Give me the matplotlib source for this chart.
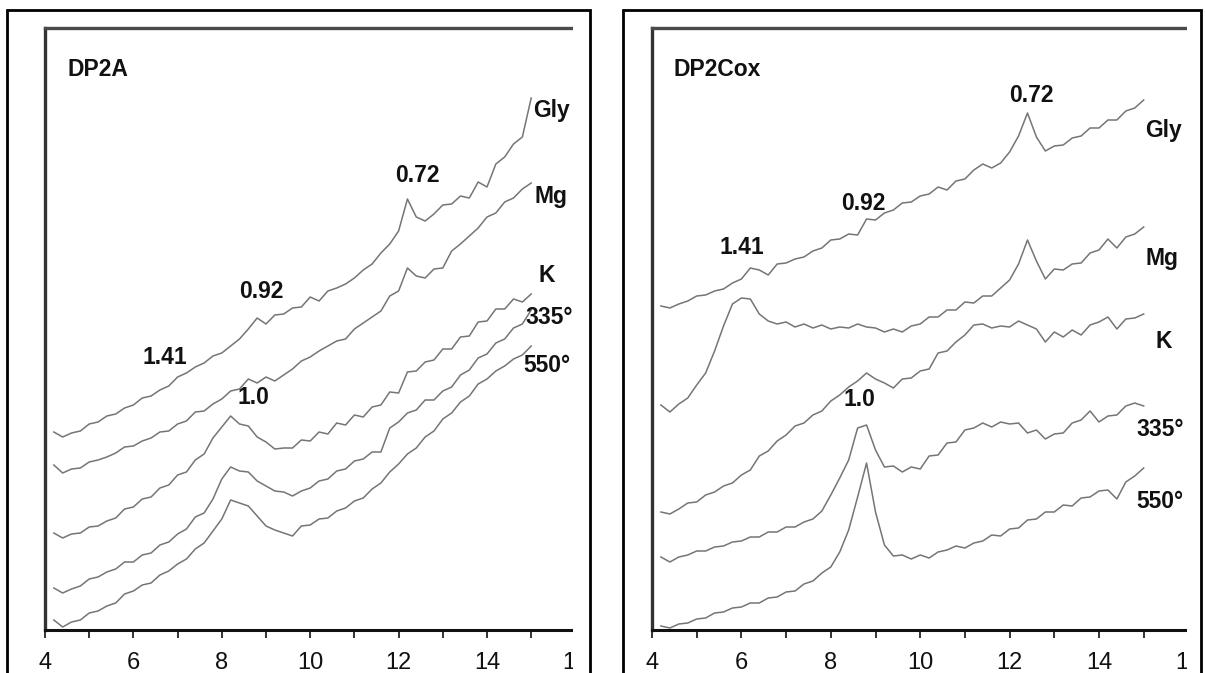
import numpy as np
import matplotlib
matplotlib.use("Agg")
import matplotlib.pyplot as plt
from matplotlib.patches import Rectangle
from matplotlib.ticker import MultipleLocator

# ---------------- data (2-theta grid, intensities) ----------------
two_theta = np.round(np.arange(4.2, 15.01, 0.2), 1)

# DP2A panel
dp2a_gly = [198, 193, 197, 199, 206, 208, 214, 216, 222, 225, 232, 234, 240, 244, 253, 257, 263, 267,
            274, 277, 284, 291, 301, 312, 306, 315, 316, 322, 323, 333, 329, 339, 342, 346, 352, 360,
            366, 377, 386, 399, 431, 413, 409, 416, 425, 426, 434, 432, 448, 443, 466, 473, 486, 493, 532]
dp2a_mg = [165, 157, 161, 162, 168, 170, 173, 177, 183, 184, 189, 192, 198, 199, 206, 209, 218, 219,
           226, 231, 239, 241, 251, 247, 253, 249, 255, 261, 269, 273, 279, 284, 289, 291, 301, 307,
           313, 319, 334, 339, 362, 354, 352, 361, 362, 379, 386, 394, 402, 413, 417, 428, 432, 441, 447]
dp2a_k = [97, 92, 96, 97, 103, 104, 109, 112, 121, 123, 131, 133, 142, 145, 155, 158, 170, 176,
          192, 203, 214, 206, 204, 193, 188, 181, 182, 182, 190, 189, 198, 196, 207, 205, 215, 213,
          223, 225, 238, 237, 258, 259, 268, 270, 281, 281, 293, 294, 308, 309, 321, 321, 331, 328, 336]
dp2a_335 = [42, 37, 41, 44, 51, 53, 58, 61, 68, 68, 75, 77, 85, 88, 96, 101, 113, 117,
            131, 151, 163, 159, 158, 149, 144, 139, 138, 134, 139, 142, 149, 151, 159, 161, 169, 171,
            178, 178, 202, 208, 217, 220, 230, 230, 239, 243, 255, 260, 272, 276, 287, 291, 302, 306, 320]
dp2a_550 = [10, 3, 8, 10, 17, 19, 24, 27, 36, 39, 45, 47, 55, 59, 66, 71, 81, 87,
            99, 111, 130, 127, 124, 114, 104, 100, 97, 94, 104, 105, 111, 112, 119, 122, 129, 132,
            141, 147, 158, 166, 176, 182, 193, 199, 211, 217, 228, 234, 246, 251, 259, 264, 271, 275, 284]

# DP2Cox panel
dp2cox_gly = [324, 322, 326, 329, 334, 335, 339, 341, 347, 351, 362, 360, 355, 366, 367, 371, 373, 379,
              382, 390, 391, 396, 395, 411, 410, 417, 420, 427, 428, 434, 436, 443, 440, 449, 451, 460,
              466, 462, 467, 478, 494, 517, 493, 479, 484, 485, 492, 494, 502, 502, 510, 510, 519, 522, 530]
dp2cox_mg = [225, 218, 226, 232, 245, 257, 279, 304, 326, 332, 331, 316, 309, 306, 308, 303, 306, 302,
             305, 301, 303, 302, 306, 303, 302, 298, 301, 298, 304, 306, 313, 313, 320, 320, 328, 327,
             334, 334, 342, 350, 366, 390, 369, 351, 361, 360, 366, 367, 377, 380, 391, 382, 393, 396, 403]
dp2cox_k = [118, 116, 121, 127, 128, 135, 138, 144, 147, 155, 160, 174, 179, 189, 195, 204, 207, 215,
            219, 229, 235, 243, 249, 257, 251, 247, 242, 251, 252, 259, 261, 277, 279, 288, 295, 305,
            306, 302, 304, 303, 309, 305, 301, 288, 298, 293, 300, 295, 305, 308, 313, 301, 311, 312, 316]
dp2cox_335 = [73, 68, 73, 75, 79, 79, 83, 84, 88, 89, 93, 93, 98, 98, 103, 103, 108, 111,
              119, 135, 152, 170, 202, 205, 180, 163, 164, 158, 163, 161, 174, 175, 187, 188, 200, 202,
              207, 203, 208, 206, 207, 197, 200, 191, 196, 197, 207, 210, 219, 208, 214, 215, 224, 227, 224]
dp2cox_550 = [4, 2, 6, 7, 11, 12, 17, 18, 22, 23, 27, 27, 32, 33, 38, 39, 46, 49,
              57, 63, 78, 100, 133, 167, 118, 85, 74, 75, 71, 75, 72, 78, 80, 84, 82, 87,
              89, 95, 94, 101, 102, 110, 111, 118, 118, 125, 124, 132, 133, 139, 140, 131, 148, 154, 162]

x_ticks = [4, 6, 8, 10, 12, 14, 16]

panels = [
    dict(title="DP2A", left=45, unit=44.2,
         series=[dp2a_gly, dp2a_mg, dp2a_k, dp2a_335, dp2a_550],
         peaks=[("1.41", 6.71, 272), ("0.92", 8.90, 339), ("1.0", 8.72, 232), ("0.72", 12.42, 455)],
         names=[("Gly", 15.47, 520), ("Mg", 15.44, 434), ("K", 15.35, 354),
                ("335°", 15.40, 312), ("550°", 15.35, 264)],
         title_x=4.50),
    dict(title="DP2Cox", left=652, unit=44.7,
         series=[dp2cox_gly, dp2cox_mg, dp2cox_k, dp2cox_335, dp2cox_550],
         peaks=[("1.41", 6.02, 382), ("0.92", 8.72, 426), ("1.0", 8.63, 231), ("0.72", 12.48, 534)],
         names=[("Gly", 15.45, 499), ("Mg", 15.41, 371), ("K", 15.45, 288),
                ("335°", 15.36, 201), ("550°", 15.36, 129)],
         title_x=4.47),
]

W, H = 1205, 673
fig = plt.figure(figsize=(W / 100, H / 100), dpi=100)
fig.patch.set_facecolor("white")

TOP, BOTTOM = 28, 630
XMAX = 16.5
bold = dict(family=["Liberation Sans", "DejaVu Sans"], fontweight="bold", fontsize=16.5,
            color="#111111")

axes = []
for p in panels:
    width = p["unit"] * (XMAX - 4)
    ax = fig.add_axes([p["left"] / W, 1 - BOTTOM / H, width / W, (BOTTOM - TOP) / H])
    axes.append(ax)
    for ys in p["series"]:
        ax.plot(two_theta, ys, color="#757575", lw=1.1)
    ax.set_xlim(4, XMAX)
    ax.set_ylim(0, BOTTOM - TOP)
    ax.set_xticks(x_ticks)
    ax.set_xticklabels([str(t) for t in x_ticks])
    ax.xaxis.set_minor_locator(MultipleLocator(1))
    ax.set_yticks([])
    ax.tick_params(axis="x", which="both", direction="out", length=6, width=1.4,
                   color="#333333", labelsize=17, pad=10, labelcolor="#111111")
    for lab in ax.get_xticklabels():
        lab.set_family(["Liberation Sans Narrow", "Liberation Sans", "DejaVu Sans"])
    ax.spines["right"].set_visible(False)
    ax.spines["top"].set_linewidth(2.4)
    ax.spines["top"].set_color("#4a4a4a")
    ax.spines["left"].set_linewidth(2.4)
    ax.spines["left"].set_color("#333333")
    ax.spines["bottom"].set_linewidth(2.2)
    ax.spines["bottom"].set_color("#111111")
    ax.set_facecolor("white")

# white masks: each panel picture is cropped a little before its outer frame
fig.add_artist(Rectangle((573 / W, 0), (622 - 573) / W, 1, transform=fig.transFigure,
                         facecolor="white", edgecolor="none", zorder=5))
fig.add_artist(Rectangle((1187 / W, 0), (W - 1187) / W + 0.01, 1, transform=fig.transFigure,
                         facecolor="white", edgecolor="none", zorder=5))

# outer frames
for x0, x1 in [(7, 590), (623, 1201)]:
    fig.add_artist(Rectangle((x0 / W, -0.05), (x1 - x0) / W, 1.05 - 10 / H,
                             transform=fig.transFigure, fill=False, edgecolor="black",
                             linewidth=2.0, zorder=8))

# labels (on top of masks)
for ax, p in zip(axes, panels):
    fig.text(p["title_x"], 561, p["title"], transform=ax.transData, ha="left", va="center",
             zorder=9, **bold)
    for txt, x, y in p["peaks"]:
        fig.text(x, y, txt, transform=ax.transData, ha="center", va="center", zorder=9, **bold)
    for txt, x, y in p["names"]:
        fig.text(x, y, txt, transform=ax.transData, ha="center", va="center", zorder=9, **bold)

fig.savefig("out.png", dpi=100, facecolor="white")
